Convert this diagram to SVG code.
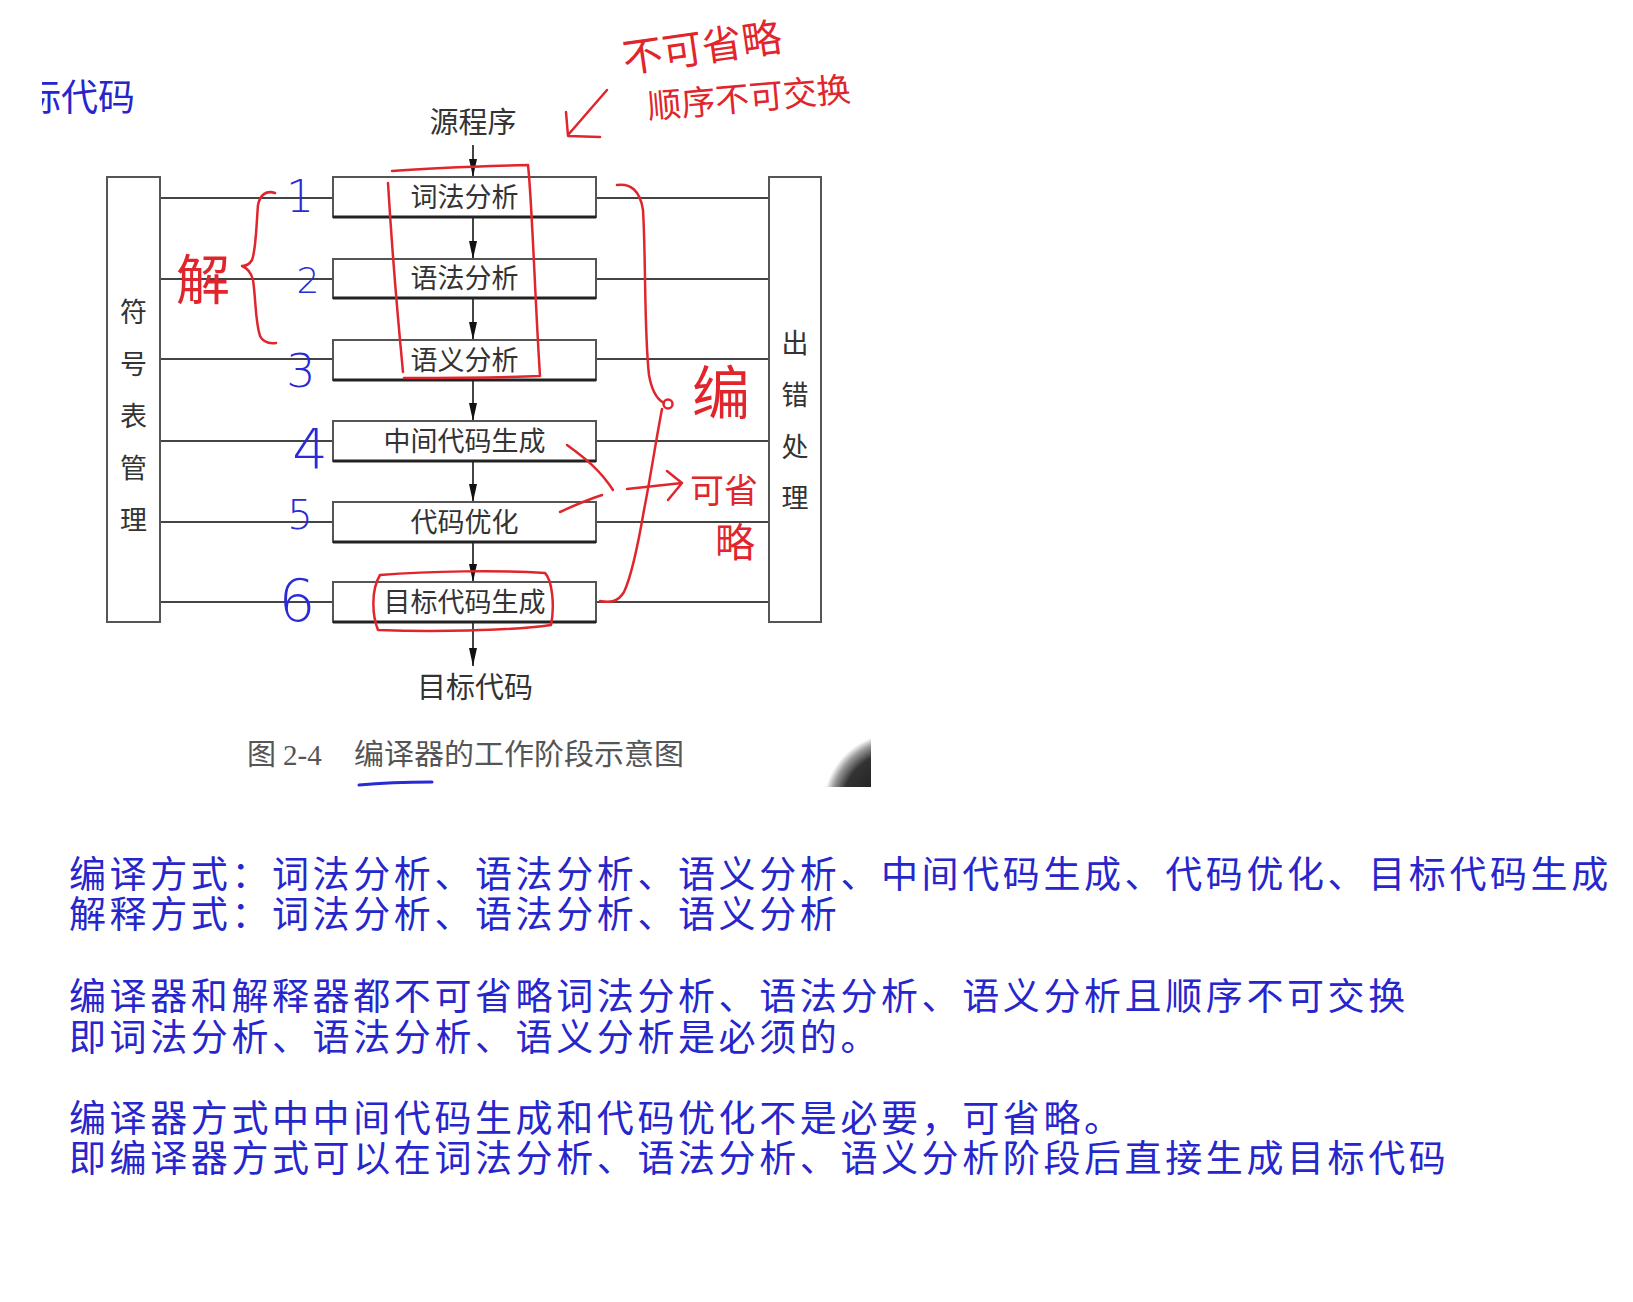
<svg xmlns="http://www.w3.org/2000/svg" width="1633" height="1302" viewBox="0 0 1633 1302">
<style>
.box{fill:#fff;stroke:#555;stroke-width:2}
.shadow{stroke:#222;stroke-width:3}
.lbl{font-family:"Noto Sans CJK SC","Liberation Sans",sans-serif;font-size:27px;fill:#333;text-anchor:middle}
.conn{stroke:#444;stroke-width:2;fill:none}
.blue{font-family:"Noto Sans CJK SC","Liberation Sans",sans-serif;font-size:37px;letter-spacing:3.6px;fill:#2626cc}
.cap{font-family:"Noto Sans CJK SC","Liberation Sans",sans-serif;font-size:29px;fill:#555}
.red{fill:none;stroke:#e0262c;stroke-width:2.5;stroke-linecap:round;stroke-linejoin:round}
.redt{font-family:"Noto Sans CJK SC",sans-serif;fill:#e0262c;text-anchor:middle}
.bluet{font-family:"DejaVu Sans",sans-serif;fill:#2a2ad6;text-anchor:middle;font-weight:300}
.bluel{fill:none;stroke:#2a2ad6;stroke-width:3;stroke-linecap:round}
</style>
<defs>
<marker id="ah" viewBox="0 0 18 8" refX="18" refY="4" markerWidth="18" markerHeight="8" markerUnits="userSpaceOnUse" orient="auto">
<path d="M0,0 L18,4 L0,8 Z" fill="#111"/>
</marker>
<clipPath id="clipL"><rect x="42" y="60" width="200" height="70"/></clipPath>
<clipPath id="clipB"><rect x="800" y="700" width="71" height="87"/></clipPath>
<radialGradient id="blob" cx="0.6" cy="0.6" r="0.6">
<stop offset="0" stop-color="#111"/>
<stop offset="0.75" stop-color="#333"/>
<stop offset="0.9" stop-color="#999"/>
<stop offset="1" stop-color="#fff"/>
</radialGradient>
</defs>
<rect width="1633" height="1302" fill="#fff"/>

<text class="blue" x="24" y="111" clip-path="url(#clipL)" style="letter-spacing:0">标代码</text>

<g id="connectors">
<line class="conn" x1="160" y1="198" x2="333" y2="198"/>
<line class="conn" x1="160" y1="279" x2="333" y2="279"/>
<line class="conn" x1="160" y1="359" x2="333" y2="359"/>
<line class="conn" x1="160" y1="441" x2="333" y2="441"/>
<line class="conn" x1="160" y1="522" x2="333" y2="522"/>
<line class="conn" x1="160" y1="602" x2="333" y2="602"/>
<line class="conn" x1="596" y1="198" x2="769" y2="198"/>
<line class="conn" x1="596" y1="279" x2="769" y2="279"/>
<line class="conn" x1="596" y1="359" x2="769" y2="359"/>
<line class="conn" x1="596" y1="441" x2="769" y2="441"/>
<line class="conn" x1="596" y1="522" x2="769" y2="522"/>
<line class="conn" x1="596" y1="602" x2="769" y2="602"/>
<line class="conn" x1="473" y1="145" x2="473" y2="177" marker-end="url(#ah)"/>
<line class="conn" x1="473" y1="218" x2="473" y2="259" marker-end="url(#ah)"/>
<line class="conn" x1="473" y1="299" x2="473" y2="340" marker-end="url(#ah)"/>
<line class="conn" x1="473" y1="381" x2="473" y2="421" marker-end="url(#ah)"/>
<line class="conn" x1="473" y1="462" x2="473" y2="502" marker-end="url(#ah)"/>
<line class="conn" x1="473" y1="543" x2="473" y2="582" marker-end="url(#ah)"/>
<line class="conn" x1="473" y1="623" x2="473" y2="666" marker-end="url(#ah)"/>
</g>

<g id="source"><text class="lbl" x="473" y="133" style="font-size:29px">源程序</text></g>
<g id="target"><text class="lbl" x="475" y="698" style="font-size:29px">目标代码</text></g>

<g id="symtab">
<rect class="box" x="107" y="177" width="53" height="445"/>
<text class="lbl" x="133.5" y="322">符</text>
<text class="lbl" x="133.5" y="374">号</text>
<text class="lbl" x="133.5" y="426">表</text>
<text class="lbl" x="133.5" y="478">管</text>
<text class="lbl" x="133.5" y="530">理</text>
</g>
<g id="errhandle">
<rect class="box" x="769" y="177" width="52" height="445"/>
<text class="lbl" x="795" y="353">出</text>
<text class="lbl" x="795" y="405">错</text>
<text class="lbl" x="795" y="457">处</text>
<text class="lbl" x="795" y="508">理</text>
</g>

<g id="lex"><rect class="box" x="333" y="177" width="263" height="40"/><line class="shadow" x1="333" y1="217" x2="596" y2="217"/><text class="lbl" x="464.5" y="207">词法分析</text></g>
<g id="syn"><rect class="box" x="333" y="259" width="263" height="39"/><line class="shadow" x1="333" y1="298" x2="596" y2="298"/><text class="lbl" x="464.5" y="288">语法分析</text></g>
<g id="sem"><rect class="box" x="333" y="340" width="263" height="40"/><line class="shadow" x1="333" y1="380" x2="596" y2="380"/><text class="lbl" x="464.5" y="370">语义分析</text></g>
<g id="ir"><rect class="box" x="333" y="421" width="263" height="40"/><line class="shadow" x1="333" y1="461" x2="596" y2="461"/><text class="lbl" x="464.5" y="451">中间代码生成</text></g>
<g id="opt"><rect class="box" x="333" y="502" width="263" height="40"/><line class="shadow" x1="333" y1="542" x2="596" y2="542"/><text class="lbl" x="464.5" y="532">代码优化</text></g>
<g id="codegen"><rect class="box" x="333" y="582" width="263" height="40"/><line class="shadow" x1="333" y1="622" x2="596" y2="622"/><text class="lbl" x="464.5" y="612">目标代码生成</text></g>

<g id="caption">
<text class="cap" x="247" y="765">图</text>
<text x="283" y="765" style="font-family:'Liberation Serif',serif;font-size:29px;fill:#555">2-4</text>
<text class="cap" x="354" y="765" textLength="330" lengthAdjust="spacingAndGlyphs">编译器的工作阶段示意图</text>
</g>

<g id="blobshape" clip-path="url(#clipB)">
<circle cx="885" cy="795" r="62" fill="url(#blob)"/>
</g>

<g id="annotations">
<path class="red" d="M392,171 C430,168 490,166 528,165 C532,200 535,300 540,376 C500,378 440,378 404,378"/>
<path class="red" d="M388,183 C392,250 398,320 403,372"/>
<path class="red" d="M275,193 C266,190 260,195 258,205 C256,230 256,250 252,260 C249,265 245,266 242,266 C247,268 251,272 253,280 C256,300 255,320 260,336 C263,342 268,344 276,343"/>
<path class="red" d="M617,185 C630,183 640,190 643,210 C646,260 644,330 649,375 C652,392 658,400 664,403"/>
<circle class="red" cx="668" cy="404" r="4.5"/>
<path class="red" d="M662,409 C656,440 650,480 644,510 C638,545 632,575 624,592 C618,602 610,603 600,601"/>
<path class="red" d="M567,445 C585,458 600,470 613,490"/>
<path class="red" d="M560,512 C575,505 590,499 602,495"/>
<path class="red" d="M627,489 L682,483 M667,471 L682,483 L668,500"/>
<path class="red" d="M607,90 L568,135 M566,112 L568,136 L600,137"/>
<path class="red" d="M380,575 C430,571 500,570 545,573 C552,580 555,605 551,625 C510,631 430,632 378,630 C372,615 371,590 380,575 Z"/>
<path class="bluel" d="M359,785 C380,783 410,782 432,782"/>
<text class="redt" x="702" y="62" style="font-size:40px" transform="rotate(-8 702 47)">不可省略</text>
<text class="redt" x="749" y="110" style="font-size:34px" transform="rotate(-5 749 97)">顺序不可交换</text>
<text class="redt" x="203" y="300" style="font-size:54px">解</text>
<text class="redt" x="721" y="414" style="font-size:58px">编</text>
<text class="redt" x="724" y="503" style="font-size:34px">可省</text>
<text class="redt" x="735" y="557" style="font-size:40px">略</text>
<text class="bluet" x="300" y="212" style="font-size:44px">1</text>
<text class="bluet" x="308" y="293" style="font-size:36px">2</text>
<text class="bluet" x="301" y="387" style="font-size:46px">3</text>
<text class="bluet" x="310" y="468" style="font-size:56px">4</text>
<text class="bluet" x="300" y="529" style="font-size:40px">5</text>
<text class="bluet" x="297" y="621" style="font-size:58px">6</text>
</g>

<g id="notes">
<text class="blue" x="69" y="888">编译方式：词法分析、语法分析、语义分析、中间代码生成、代码优化、目标代码生成</text>
<text class="blue" x="69" y="928">解释方式：词法分析、语法分析、语义分析</text>
<text class="blue" x="69" y="1010">编译器和解释器都不可省略词法分析、语法分析、语义分析且顺序不可交换</text>
<text class="blue" x="69" y="1051">即词法分析、语法分析、语义分析是必须的。</text>
<text class="blue" x="69" y="1132">编译器方式中中间代码生成和代码优化不是必要，可省略。</text>
<text class="blue" x="69" y="1172">即编译器方式可以在词法分析、语法分析、语义分析阶段后直接生成目标代码</text>
</g>
</svg>
